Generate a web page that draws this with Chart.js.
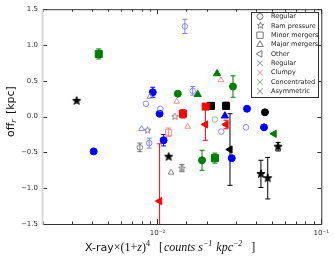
<!DOCTYPE html>
<html>
<head>
<meta charset="utf-8">
<script src="https://cdn.jsdelivr.net/npm/chart.js@4.4.0/dist/chart.umd.min.js"></script>
<style>html,body{margin:0;padding:0;background:#fff}</style>
</head>
<body>
<canvas id="c" width="334" height="260"></canvas>
<script>
// each point is [x, off_r, error]
const blueCircFilled = [[0.00408,-0.486,0],[0.00936,0.34,0.07],[0.0103,0.04,0],[0.0109,-0.33,0.08],[0.0352,0.11,0],[0.0447,-0.15,0],[0.0284,-0.58,0]];
const blueCircOpen = [[0.0085,0.18,0],[0.0104,0.11,0],[0.0089,-0.37,0.07],[0.0147,1.26,0.1],[0.0164,0.36,0.06],[0.0245,-0.21,0],[0.0347,-0.15,0]];
const blueTriFilled = [[0.0258,0.01,0]];
const blueTriOpen = [[0.0090,0.28,0],[0.0080,-0.17,0]];
const greenCircFilled = [[0.0133,0.32,0],[0.0289,0.42,0.15],[0.0187,-0.61,0.14]];
const greenCircOpen = [[0.0224,-0.04,0]];
const greenSqFilled = [[0.00438,0.875,0.07],[0.0224,-0.58,0.07]];
const greenTriFilled = [[0.0231,0.6,0],[0.0176,0.31,0]];
const greenLeftFilled = [[0.0515,-0.24,0]];
const redSqFilled = [[0.0143,0.04,0.06],[0.0197,0.14,0]];
const redSqOpen = [[0.0117,-0.22,0.06]];
const redTriOpen = [[0.0244,0.51,0],[0.0131,0.21,0],[0.0153,-0.14,0]];
const redLeftFilled = [[0.0103,-1.18,0.8],[0.0196,-0.11,0.22],[0.0262,-0.11,0.06]];
const blackSqFilled = [[0.0212,0.15,0],[0.0262,0.15,0.05]];
const blackCircFilled = [[0.0453,0.06,0]];
const blackCircOpen = [[0.0078,-0.43,0.06]];
const blackStarFilled = [[0.00321,0.22,0],[0.0117,-0.56,0],[0.0428,-0.8,0.19],[0.0471,-0.86,0.29],[0.0545,-0.42,0.06]];
const blackStarOpen = [[0.0128,0.0,0],[0.0141,-0.72,0.05],[0.0087,-0.19,0]];
const blackTriOpen = [[0.0121,-0.78,0]];
const blackLeftFilled = [[0.0277,-0.46,0.5]];

const legendShapes = ['Regular','Ram pressure','Minor mergers','Major mergers','Other'];
const legendClasses = ['Regular','Clumpy','Concentrated','Asymmetric'];

const FONT = 'DejaVu Sans';
const BLUE = '#0000ff', GREEN = '#007f00', RED = '#ff0000', BLACK = '#000000';
const LBLUE = '#8080ff', LGREEN = '#7fbf7f', LRED = '#ff8080', GREY = '#777777';

function starCanvas(r, fill, stroke) {
  const c = document.createElement('canvas');
  const s = Math.ceil(r * 2 + 3);
  c.width = c.height = s;
  const g = c.getContext('2d');
  g.beginPath();
  for (let i = 0; i < 10; i++) {
    const a = -Math.PI / 2 + i * Math.PI / 5;
    const rr = i % 2 ? r * 0.42 : r;
    g.lineTo(s / 2 + rr * Math.cos(a), s / 2 + rr * Math.sin(a));
  }
  g.closePath();
  if (fill) { g.fillStyle = fill; g.fill(); }
  if (stroke) { g.strokeStyle = stroke; g.lineWidth = 0.9; g.stroke(); }
  return c;
}
const starFilled = starCanvas(4.3, BLACK, BLACK);
const starOpen = starCanvas(3.6, null, GREY);

function ds(points, style, color, filled, radius, rot) {
  return {
    data: points.map(p => ({x: p[0], y: p[1]})),
    errs: points.map(p => p[2]),
    errColor: color,
    pointStyle: style,
    pointRotation: rot || 0,
    pointRadius: radius,
    pointBorderWidth: filled ? 1 : 0.9,
    pointBorderColor: color,
    pointBackgroundColor: filled ? color : 'rgba(0,0,0,0)',
    showLine: false
  };
}

const datasets = [
  ds(blueCircOpen, 'circle', LBLUE, false, 2.8),
  ds(blueTriOpen, 'triangle', LBLUE, false, 3.3),
  ds(greenCircOpen, 'circle', LGREEN, false, 2.8),
  ds(redSqOpen, 'rect', LRED, false, 4.3),
  ds(redTriOpen, 'triangle', LRED, false, 3.3),
  ds(blackCircOpen, 'circle', GREY, false, 2.8),
  ds(blackStarOpen, starOpen, GREY, false, 4),
  ds(blackTriOpen, 'triangle', GREY, false, 3.3),
  ds(blueCircFilled, 'circle', BLUE, true, 3.5),
  ds(blueTriFilled, 'triangle', BLUE, true, 4.2),
  ds(greenCircFilled, 'circle', GREEN, true, 3.5),
  ds(greenSqFilled, 'rect', GREEN, true, 5),
  ds(greenTriFilled, 'triangle', GREEN, true, 4.2),
  ds(greenLeftFilled, 'triangle', GREEN, true, 4.2, -90),
  ds(redSqFilled, 'rect', RED, true, 5),
  ds(redLeftFilled, 'triangle', RED, true, 4.2, -90),
  ds(blackSqFilled, 'rect', BLACK, true, 5),
  ds(blackCircFilled, 'circle', BLACK, true, 3.5),
  ds(blackStarFilled, starFilled, BLACK, true, 4),
  ds(blackLeftFilled, 'triangle', BLACK, true, 4.2, -90)
];

const errorBars = {
  id: 'errorBars',
  beforeDatasetsDraw(chart) {
    const ctx = chart.ctx, a = chart.chartArea, ys = chart.scales.y;
    ctx.save();
    ctx.beginPath();
    ctx.rect(a.left, a.top, a.right - a.left, a.bottom - a.top);
    ctx.clip();
    chart.data.datasets.forEach((d, i) => {
      const meta = chart.getDatasetMeta(i);
      meta.data.forEach((el, j) => {
        const e = d.errs[j];
        if (!e) return;
        const v = d.data[j].y;
        const y1 = ys.getPixelForValue(v + e), y2 = ys.getPixelForValue(v - e);
        ctx.strokeStyle = d.errColor;
        ctx.lineWidth = 1;
        ctx.beginPath();
        ctx.moveTo(el.x, y1); ctx.lineTo(el.x, y2);
        ctx.moveTo(el.x - 2.5, y1); ctx.lineTo(el.x + 2.5, y1);
        ctx.moveTo(el.x - 2.5, y2); ctx.lineTo(el.x + 2.5, y2);
        ctx.stroke();
      });
    });
    ctx.restore();
  }
};

const frame = {
  id: 'frame',
  afterDraw(chart) {
    const ctx = chart.ctx, a = chart.chartArea;
    const xs = chart.scales.x, ys = chart.scales.y;
    ctx.save();
    ctx.strokeStyle = '#333';
    ctx.lineWidth = 1;
    ctx.beginPath();
    ctx.moveTo(a.left, a.top + 0.5); ctx.lineTo(a.right + 0.5, a.top + 0.5);
    ctx.lineTo(a.right + 0.5, a.bottom + 0.5); ctx.lineTo(a.left, a.bottom + 0.5);
    // x ticks, inside, bottom and top
    xs.ticks.forEach(t => {
      const px = Math.round(xs.getPixelForValue(t.value)) + 0.5;
      const m = t.value / Math.pow(10, Math.floor(Math.log10(t.value) + 1e-9));
      const len = Math.abs(m - 1) < 1e-6 ? 5 : 2.5;
      ctx.moveTo(px, a.bottom); ctx.lineTo(px, a.bottom - len);
      ctx.moveTo(px, a.top); ctx.lineTo(px, a.top + len);
    });
    ys.ticks.forEach(t => {
      const py = Math.round(ys.getPixelForValue(t.value)) + 0.5;
      ctx.moveTo(a.left, py); ctx.lineTo(a.left + 4, py);
      ctx.moveTo(a.right, py); ctx.lineTo(a.right - 4, py);
    });
    ctx.stroke();
    ctx.strokeStyle = '#d8d8d8';
    ctx.lineWidth = 2;
    ctx.beginPath();
    ctx.moveTo(a.left - 0.5, a.top); ctx.lineTo(a.left - 0.5, a.bottom + 1);
    ctx.stroke();
    ctx.restore();
  }
};

function drawPieces(ctx, pieces, x, y) {
  pieces.forEach(p => {
    ctx.font = p.f;
    ctx.fillText(p.t, x, y + (p.dy || 0));
    x += ctx.measureText(p.t).width + (p.gap || 0);
  });
}

const titles = {
  id: 'titles',
  afterDraw(chart) {
    const ctx = chart.ctx;
    ctx.save();
    ctx.fillStyle = '#111';
    ctx.textBaseline = 'alphabetic';
    const sans = '11px "' + FONT + '"';
    const serif = '12px "Liberation Serif"';
    const it = 'italic 12px "Liberation Serif"';
    const sup = 'italic 8px "Liberation Serif"';
    drawPieces(ctx, [
      {t: 'X-ray', f: sans},
      {t: '×(1+', f: serif},
      {t: 'z', f: it},
      {t: ')', f: serif},
      {t: '4', f: '8px "Liberation Serif"', dy: -5},
      {t: '   [', f: serif, gap: 1},
      {t: 'counts s', f: it},
      {t: '−1', f: sup, dy: -5, gap: 1},
      {t: ' kpc', f: it},
      {t: '−2', f: sup, dy: -5},
      {t: '   ]', f: serif}
    ], 85, 251);
    ctx.translate(14, 137);
    ctx.rotate(-Math.PI / 2);
    drawPieces(ctx, [
      {t: 'off', f: sans},
      {t: 'r', f: 'italic 8px "Liberation Serif"', dy: 2, gap: 2},
      {t: ' [kpc]', f: sans}
    ], 0, 0);
    ctx.restore();
  }
};

const legendBox = {
  id: 'legendBox',
  afterDraw(chart) {
    const ctx = chart.ctx;
    const bx = 251, by = 12, bw = 67, bh = 85;
    ctx.save();
    ctx.fillStyle = '#fff';
    ctx.fillRect(bx, by, bw, bh);
    ctx.strokeStyle = '#333';
    ctx.lineWidth = 1;
    ctx.strokeRect(bx + 0.5, by + 0.5, bw, bh);
    const shapeStyles = [['circle', 0, 3], [null, 0, 4], ['rect', 0, 4.5], ['triangle', 0, 3.8], ['triangle', -90, 3.8]];
    const classColors = [LBLUE, LRED, LGREEN, '#808080'];
    const rows = [];
    legendShapes.forEach((t, i) => rows.push({t, st: shapeStyles[i][0], rot: shapeStyles[i][1], r: shapeStyles[i][2], c: GREY}));
    legendClasses.forEach((t, i) => rows.push({t, st: 'crossRot', rot: 0, r: 4, c: classColors[i]}));
    ctx.font = '6.5px "' + FONT + '"';
    ctx.textBaseline = 'middle';
    rows.forEach((row, i) => {
      const y = 16.5 + i * 9.35, x = 260;
      if (row.st === null) {
        ctx.drawImage(starOpen, Math.round(x - starOpen.width / 2), Math.round(y - starOpen.height / 2));
      } else {
        ctx.strokeStyle = row.c;
        ctx.fillStyle = 'rgba(0,0,0,0)';
        Chart.helpers.drawPoint(ctx, {pointStyle: row.st, rotation: row.rot, radius: row.r, borderWidth: 0.9}, x, y);
      }
      ctx.fillStyle = '#222';
      ctx.fillText(row.t, 271, y);
    });
    ctx.restore();
  }
};

new Chart(document.getElementById('c'), {
  type: 'scatter',
  data: { datasets },
  options: {
    responsive: false,
    animation: false,
    devicePixelRatio: 1,
    layout: { padding: { top: 8, right: 12, left: 0, bottom: 0 } },
    plugins: { legend: { display: false }, tooltip: { enabled: false } },
    scales: {
      x: {
        type: 'logarithmic', min: 0.002, max: 0.1,
        grid: { display: false, drawTicks: false },
        border: { display: false },
        ticks: {
          autoSkip: false, maxRotation: 0, padding: 5, color: '#333',
          font: { size: 7, family: FONT },
          callback: v => {
            const l = Math.log10(v);
            if (Math.abs(l - Math.round(l)) > 1e-6) return '';
            return '10' + (Math.round(l) === -2 ? '⁻²' : '⁻¹');
          }
        },
        afterFit: s => { s.height = 36; }
      },
      y: {
        min: -1.5, max: 1.5,
        grid: { display: false, drawTicks: false },
        border: { display: false },
        ticks: {
          stepSize: 0.5, padding: 5, color: '#333',
          font: { size: 7, family: FONT },
          callback: v => (v < 0 ? '−' : '') + Math.abs(v).toFixed(1)
        },
        afterFit: s => { s.width = 43; }
      }
    }
  },
  plugins: [errorBars, frame, legendBox, titles]
});
</script>
</body>
</html>
